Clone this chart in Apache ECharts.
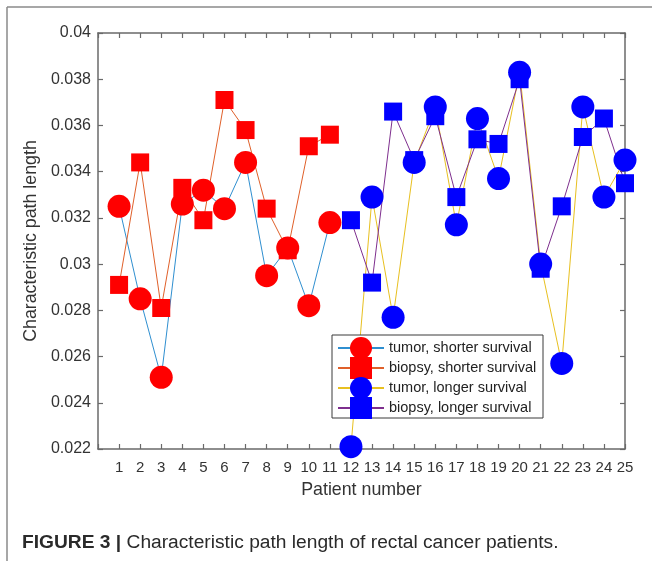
<!DOCTYPE html>
<html>
<head>
<meta charset="utf-8">
<script src="https://cdn.jsdelivr.net/npm/echarts@6/dist/echarts.min.js"></script>
<style>
html,body{margin:0;padding:0;background:#fff;}
#chart{width:652px;height:561px;}
</style>
</head>
<body>
<div id="chart"></div>
<script>
var shorterPatients = [1,2,3,4,5,6,7,8,9,10,11];
var longerPatients = [12,13,14,15,16,17,18,19,20,21,22,23,24,25];
var tumorShorter  = [0.0325,0.0285,0.0251,0.0326,0.0332,0.0324,0.0344,0.0295,0.0307,0.0282,0.0318];
var biopsyShorter = [0.0291,0.0344,0.0281,0.0333,0.0319,0.0371,0.0358,0.0324,0.0306,0.0351,0.0356];
var tumorLonger   = [0.0221,0.0329,0.0277,0.0344,0.0368,0.0317,0.0363,0.0337,0.0383,0.0300,0.0257,0.0368,0.0329,0.0345];
var biopsyLonger  = [0.0319,0.0292,0.0366,0.0345,0.0364,0.0329,0.0354,0.0352,0.0380,0.0298,0.0325,0.0355,0.0363,0.0335];
var seriesNames = ['tumor, shorter survival','biopsy, shorter survival','tumor, longer survival','biopsy, longer survival'];
var yTicks = {min:0.022, max:0.04, step:0.002};
var xTicks = {min:0, max:25, step:1};

function zip(xs, ys){ return xs.map(function(x,i){ return [x, ys[i]]; }); }

var FONT = 'Liberation Sans, Arial, sans-serif';
var AX = '#6a6a6a';
var TXT = '#333333';

function mk(name, xs, ys, lineColor, markColor, symbol, size){
  return {
    name: name, type: 'line', data: zip(xs, ys),
    symbol: symbol, symbolSize: size, clip: false,
    lineStyle: {color: lineColor, width: 1},
    itemStyle: {color: markColor, borderWidth: 0},
    emphasis: {disabled: true},
    animation: false
  };
}

var chart = echarts.init(document.getElementById('chart'), null, {renderer:'canvas'});
chart.setOption({
  animation: false,
  backgroundColor: '#ffffff',
  textStyle: {fontFamily: FONT},
  grid: {left: 98, top: 33, right: 27, bottom: 112, containLabel: false},
  xAxis: [{
    type: 'value', min: xTicks.min, max: xTicks.max, interval: xTicks.step,
    name: 'Patient number', nameLocation: 'middle', nameGap: 32,
    nameTextStyle: {fontSize: 17.8, color: TXT, fontFamily: FONT},
    axisLine: {show: true, onZero: false, lineStyle: {color: AX, width: 1.5}},
    axisTick: {show: true, inside: true, length: 5, lineStyle: {color: AX, width: 1.2}},
    axisLabel: {fontSize: 15, color: TXT, margin: 11, fontFamily: FONT,
      formatter: function(v){ return v === 0 ? '' : String(v); }},
    splitLine: {show: false}
  },{
    type: 'value', position: 'top', min: xTicks.min, max: xTicks.max, interval: xTicks.step,
    axisLine: {show: true, onZero: false, lineStyle: {color: AX, width: 1.5}},
    axisTick: {show: true, inside: true, length: 5, lineStyle: {color: AX, width: 1.2}},
    axisLabel: {show: false}, splitLine: {show: false}
  }],
  yAxis: [{
    type: 'value', min: yTicks.min, max: yTicks.max, interval: yTicks.step,
    name: 'Characteristic path length', nameLocation: 'middle', nameGap: 53,
    nameTextStyle: {fontSize: 17.8, color: TXT, fontFamily: FONT},
    axisLine: {show: true, onZero: false, lineStyle: {color: AX, width: 1.5}},
    axisTick: {show: true, inside: true, length: 5, lineStyle: {color: AX, width: 1.2}},
    axisLabel: {fontSize: 16, color: TXT, margin: 7, fontFamily: FONT},
    splitLine: {show: false}
  },{
    type: 'value', position: 'right', min: yTicks.min, max: yTicks.max, interval: yTicks.step,
    axisLine: {show: true, onZero: false, lineStyle: {color: AX, width: 1.5}},
    axisTick: {show: true, inside: true, length: 5, lineStyle: {color: AX, width: 1.2}},
    axisLabel: {show: false}, splitLine: {show: false}
  }],
  legend: {
    orient: 'vertical', left: 332, top: 337, padding: [0,0,0,5],
    itemWidth: 46, itemHeight: 27.5, itemGap: -2, z: 6,
    textStyle: {fontSize: 14.5, color: '#222', fontFamily: FONT},
    data: seriesNames
  },
  title: {
    left: 22, top: 533, padding: 0,
    text: '{b|FIGURE 3 |} Characteristic path length of rectal cancer patients.',
    textStyle: {
      fontSize: 19.2, fontWeight: 'normal', color: '#2a2a2a', fontFamily: FONT,
      rich: {b: {fontSize: 19.2, fontWeight: 'bold', color: '#2a2a2a', fontFamily: FONT}}
    }
  },
  graphic: [
    {type: 'line', shape: {x1: 7, y1: 7, x2: 652, y2: 7}, style: {stroke: '#8a8a8a', lineWidth: 1.5}, z: 1},
    {type: 'line', shape: {x1: 7, y1: 7, x2: 7, y2: 561}, style: {stroke: '#8a8a8a', lineWidth: 1.5}, z: 1},
    {type: 'rect', shape: {x: 332, y: 335, width: 211, height: 83}, style: {fill: '#ffffff', stroke: '#3a3a3a', lineWidth: 1}, z: 5}
  ],
  series: [
    mk(seriesNames[0], shorterPatients, tumorShorter, '#2f8fd0', '#ff0000', 'circle', 23),
    mk(seriesNames[1], shorterPatients, biopsyShorter, '#e0602a', '#ff0000', 'rect', 18),
    mk(seriesNames[2], longerPatients, tumorLonger, '#e8c020', '#0000ff', 'circle', 23),
    mk(seriesNames[3], longerPatients, biopsyLonger, '#7e2f8e', '#0000ff', 'rect', 18)
  ]
});
</script>
</body>
</html>
